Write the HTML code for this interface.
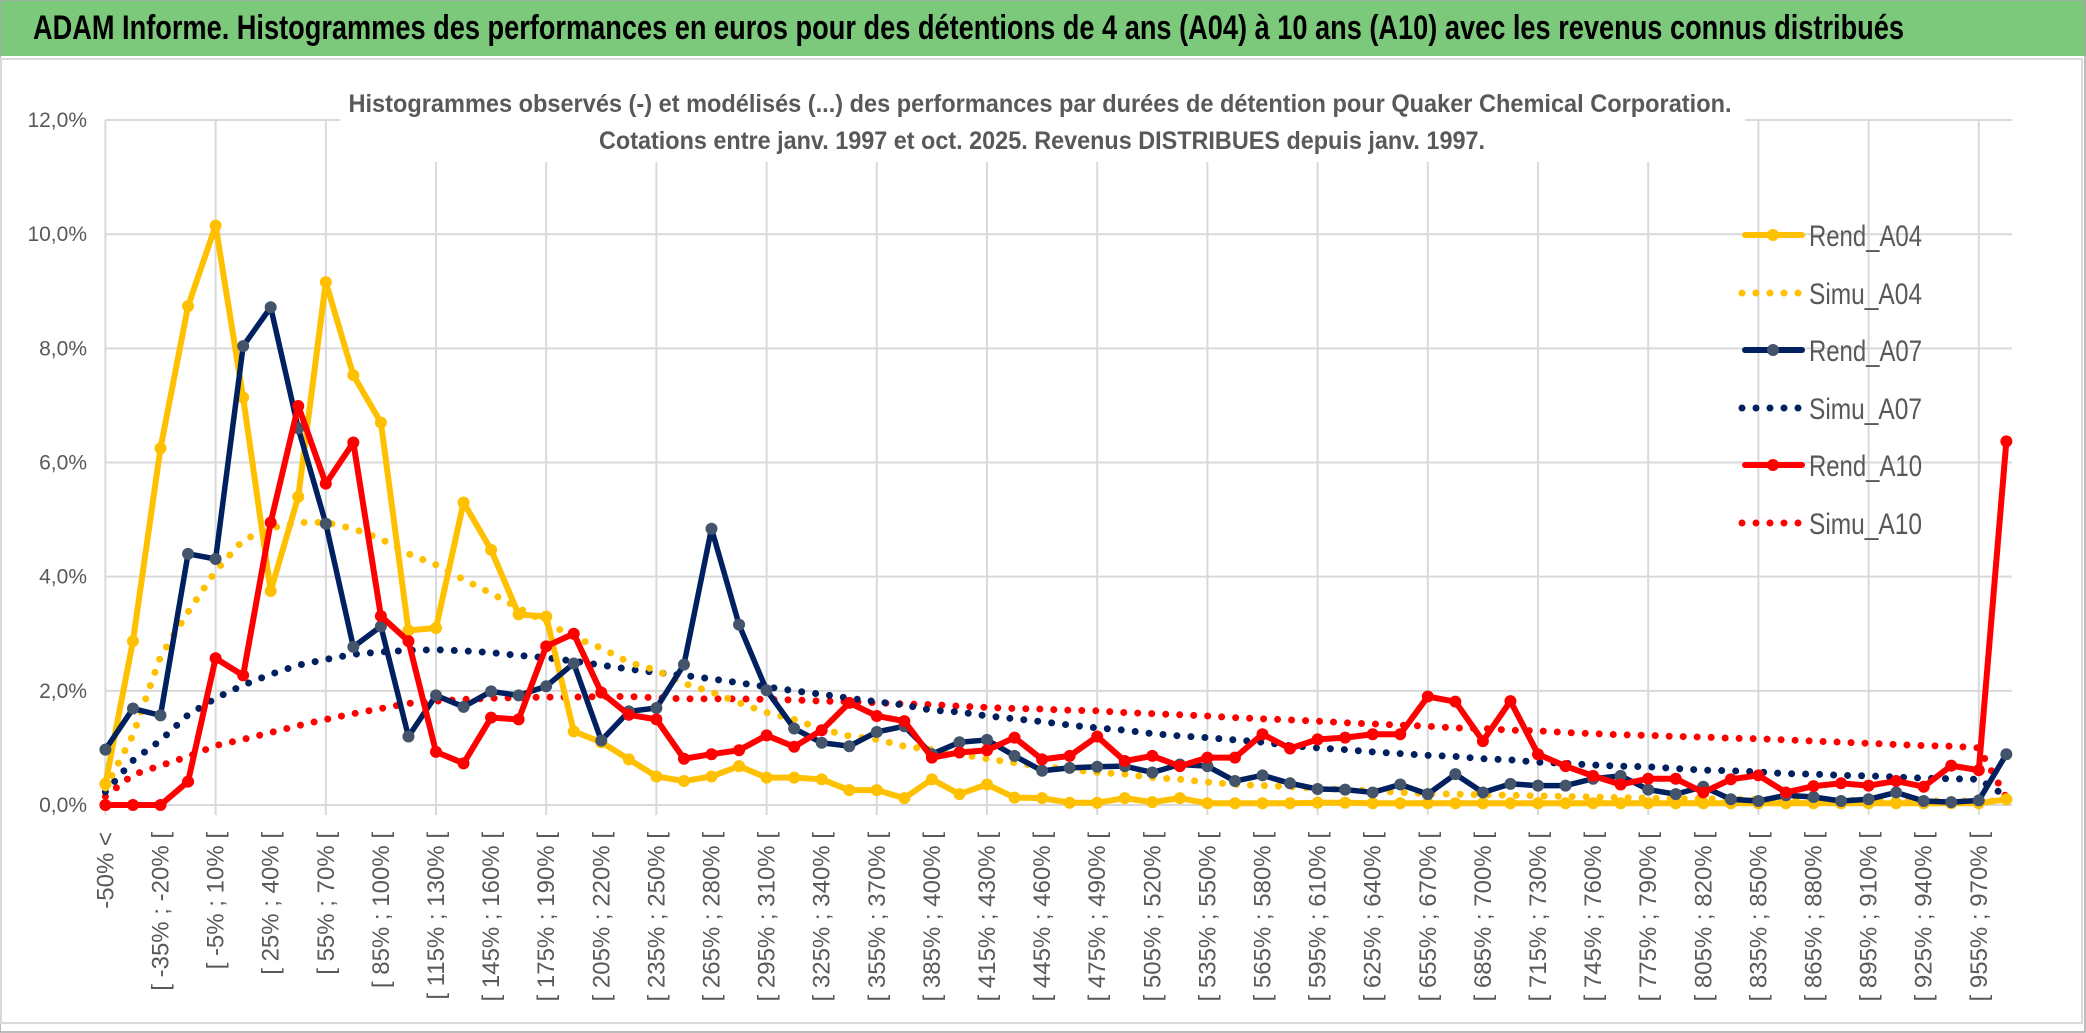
<!DOCTYPE html>
<html><head><meta charset="utf-8"><style>
html,body{margin:0;padding:0;background:#fff;}
svg{display:block;font-family:"Liberation Sans Narrow","Liberation Sans",sans-serif;}
</style></head><body>
<svg id="chart" width="2086" height="1033" viewBox="0 0 2086 1033">
<rect x="0" y="0" width="2086" height="1033" fill="#fff"/>
<rect x="0" y="0" width="2086" height="56" fill="#7DC97C"/>
<rect x="0" y="0" width="2085" height="1032" fill="none" stroke="#a6a6a6" stroke-width="1.5"/>
<rect x="1" y="59" width="2081" height="964" fill="#fff" stroke="#d9d9d9" stroke-width="2"/>
<text x="33" y="39" font-size="34" font-weight="bold" fill="#000" textLength="1871" lengthAdjust="spacingAndGlyphs">ADAM Informe. Histogrammes des performances en euros pour des détentions de 4 ans (A04) à 10 ans (A10) avec les revenus connus distribués</text>
<g id="grid"></g>
<g id="yticks"></g>
<g id="xticks"></g>
<rect x="340" y="82" width="1405" height="80" fill="#fff"/>
<text x="1040" y="112" font-size="25" font-weight="bold" fill="#595959" text-anchor="middle" textLength="1383" lengthAdjust="spacingAndGlyphs">Histogrammes observés (-) et modélisés (...) des performances par durées de détention pour Quaker Chemical Corporation.</text>
<text x="1042" y="149" font-size="25" font-weight="bold" fill="#595959" text-anchor="middle" textLength="886" lengthAdjust="spacingAndGlyphs">Cotations entre janv. 1997 et oct. 2025. Revenus DISTRIBUES depuis janv. 1997.</text>
<g id="series"></g>
<g id="legend"></g>
</svg>
<script>
const rendA04=[0.37,2.87,6.25,8.74,10.15,7.14,3.75,5.4,9.16,7.53,6.7,3.06,3.1,5.3,4.47,3.34,3.3,1.29,1.1,0.8,0.5,0.42,0.5,0.68,0.48,0.48,0.45,0.26,0.26,0.12,0.45,0.19,0.36,0.13,0.12,0.04,0.04,0.12,0.05,0.12,0.03,0.03,0.03,0.03,0.04,0.04,0.03,0.03,0.03,0.03,0.03,0.03,0.03,0.03,0.03,0.03,0.03,0.03,0.03,0.03,0.03,0.03,0.03,0.03,0.03,0.03,0.03,0.03,0.03,0.1];
const simuA04=[0.3,1.22,2.6,3.38,4.1,4.64,4.85,4.95,4.95,4.84,4.66,4.4,4.21,3.95,3.71,3.45,3.2,2.94,2.75,2.5,2.36,2.13,1.98,1.79,1.62,1.5,1.33,1.21,1.15,1.03,0.97,0.89,0.81,0.74,0.68,0.62,0.57,0.54,0.48,0.45,0.4,0.36,0.34,0.32,0.29,0.27,0.25,0.22,0.2,0.19,0.18,0.17,0.16,0.15,0.14,0.13,0.12,0.11,0.11,0.1,0.1,0.09,0.09,0.08,0.08,0.08,0.07,0.07,0.07,0.07];
const rendA07=[0.97,1.69,1.57,4.4,4.31,8.04,8.72,6.6,4.93,2.77,3.13,1.2,1.92,1.72,1.99,1.92,2.08,2.48,1.13,1.64,1.7,2.46,4.84,3.16,2.01,1.34,1.09,1.03,1.28,1.38,0.89,1.1,1.14,0.86,0.6,0.65,0.67,0.68,0.57,0.71,0.68,0.42,0.52,0.38,0.28,0.27,0.22,0.36,0.19,0.54,0.22,0.37,0.34,0.34,0.46,0.51,0.27,0.19,0.32,0.1,0.07,0.17,0.14,0.07,0.1,0.22,0.07,0.05,0.08,0.89];
const simuA07=[0.23,0.78,1.13,1.58,1.87,2.1,2.29,2.45,2.55,2.64,2.68,2.71,2.72,2.7,2.67,2.62,2.58,2.52,2.45,2.38,2.32,2.27,2.21,2.14,2.07,2.0,1.94,1.87,1.81,1.75,1.66,1.63,1.56,1.51,1.46,1.4,1.35,1.31,1.25,1.21,1.18,1.14,1.1,1.04,1.0,0.97,0.93,0.9,0.87,0.85,0.81,0.79,0.75,0.73,0.7,0.68,0.67,0.64,0.61,0.6,0.58,0.55,0.54,0.52,0.51,0.49,0.47,0.46,0.45,0.15];
const rendA10=[0,0,0,0.41,2.57,2.27,4.95,6.99,5.63,6.35,3.31,2.87,0.93,0.73,1.53,1.5,2.78,3.0,1.97,1.58,1.5,0.81,0.89,0.96,1.22,1.02,1.31,1.79,1.56,1.47,0.83,0.92,0.96,1.18,0.8,0.86,1.2,0.77,0.86,0.68,0.83,0.83,1.24,0.99,1.15,1.18,1.24,1.24,1.9,1.81,1.12,1.82,0.89,0.68,0.51,0.36,0.46,0.46,0.22,0.45,0.52,0.22,0.33,0.38,0.34,0.42,0.32,0.69,0.61,6.37];
const simuA10=[0.15,0.53,0.69,0.85,1.04,1.15,1.27,1.39,1.5,1.6,1.69,1.78,1.82,1.85,1.87,1.88,1.89,1.89,1.9,1.9,1.88,1.86,1.86,1.86,1.85,1.84,1.82,1.81,1.79,1.77,1.76,1.73,1.71,1.69,1.68,1.66,1.65,1.62,1.6,1.58,1.56,1.53,1.51,1.49,1.47,1.44,1.42,1.4,1.38,1.35,1.34,1.31,1.3,1.27,1.25,1.23,1.22,1.2,1.19,1.17,1.16,1.14,1.12,1.1,1.08,1.06,1.04,1.03,1.0,0.13];
const yTicks=[0,2,4,6,8,10,12];
const yTickLabels=["0,0%","2,0%","4,0%","6,0%","8,0%","10,0%","12,0%"];
const categories=["-50% <"];
for(let i=1;i<70;i++){const a=-50+15*(i-1);categories.push("[ "+a+"% ; "+(a+15)+"% [");}

const NS="http://www.w3.org/2000/svg";
const X0=105.4, DX=27.55, Y0=805, PY=57.08, XR=2012;
function xs(i){return X0+i*DX;}
function ys(v){return Y0-v*PY;}
function mk(tag,attrs,parent){const e=document.createElementNS(NS,tag);for(const k in attrs)e.setAttribute(k,attrs[k]);parent.appendChild(e);return e;}

const grid=document.getElementById('grid');
yTicks.forEach((t,k)=>{
  const l=mk('line',{x1:X0,x2:XR,y1:ys(t),y2:ys(t),stroke:'#d9d9d9','stroke-width':2},grid);
  
  
  const tx=mk('text',{x:87,y:ys(t)+7,'font-size':21,fill:'#595959','text-anchor':'end'},document.getElementById('yticks'));
  tx.textContent=yTickLabels[k];
  
  
});
for(let i=0;i<categories.length;i+=4){
  const l=mk('line',{x1:xs(i),x2:xs(i),y1:ys(12),y2:Y0+10,stroke:'#d9d9d9','stroke-width':2},grid);
  
  
}
const xt=document.getElementById('xticks');
for(let i=0;i<categories.length;i+=2){
  const x=xs(i)+8, y=832;
  const t=mk('text',{x:x,y:y,'font-size':24,fill:'#595959','text-anchor':'end',transform:'rotate(-90 '+x+' '+y+')'},xt);
  t.textContent=categories[i];
  
  
}

const series=document.getElementById('series');
function dotted(arr,color,name){
  const p=mk('polyline',{points:arr.map((v,i)=>xs(i)+','+ys(v)).join(' '),fill:'none',stroke:color,'stroke-width':7,'stroke-dasharray':'0 14','stroke-linecap':'round','stroke-linejoin':'round'},series);
  
  
}
function solid(arr,color,mfill,w,name){
  const g=mk('g',{},series);
  
  
  mk('polyline',{points:arr.map((v,i)=>xs(i)+','+ys(v)).join(' '),fill:'none',stroke:color,'stroke-width':w,'stroke-linejoin':'round'},g);
  arr.forEach((v,i)=>{
    const c=mk('circle',{cx:xs(i),cy:ys(v),r:6,fill:mfill},g);
    
    
  });
}
dotted(simuA10,'#FF0000','simu-a10-line');
dotted(simuA07,'#002060','simu-a07-line');
dotted(simuA04,'#FFC000','simu-a04-line');
solid(rendA04,'#FFC000','#FFC000',6,'rend-a04-line');
solid(rendA07,'#002060','#44546A',5.5,'rend-a07-line');
solid(rendA10,'#FF0000','#FF0000',6,'rend-a10-line');

const legend=document.getElementById('legend');
const legNames=["Rend_A04","Simu_A04","Rend_A07","Simu_A07","Rend_A10","Simu_A10"];
const legColors=["#FFC000","#FFC000","#002060","#002060","#FF0000","#FF0000"];
const legY=[235,293,350,408,465,523];
legNames.forEach((n,k)=>{
  const g=mk('g',{},legend);
  
  
  const y=legY[k];
  if(k%2===0){
    mk('line',{x1:1745,x2:1802,y1:y,y2:y,stroke:legColors[k],'stroke-width':6,'stroke-linecap':'round'},g);
    mk('circle',{cx:1773,cy:y,r:6,fill:k===2?'#44546A':legColors[k]},g);
  } else {
    mk('line',{x1:1742,x2:1800,y1:y,y2:y,stroke:legColors[k],'stroke-width':7,'stroke-dasharray':'0 14','stroke-linecap':'round'},g);
  }
  const t=mk('text',{x:1809,y:y+11,'font-size':30,fill:'#595959',textLength:113,lengthAdjust:'spacingAndGlyphs'},g);
  t.textContent=n;
});
</script>
</body></html>
